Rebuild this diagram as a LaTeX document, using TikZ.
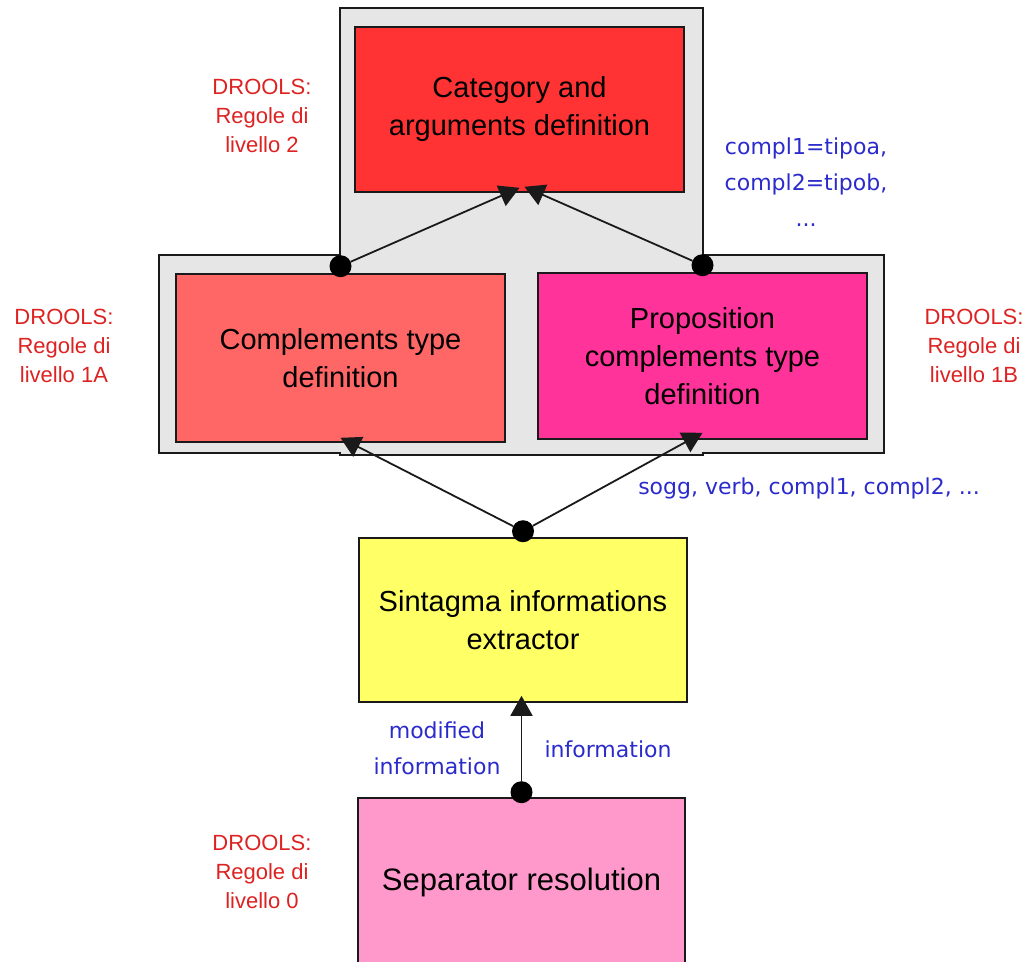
\documentclass[tikz,border=0pt]{standalone}
\usepackage{fontspec}
\setmainfont{Liberation Sans}
\newfontfamily\lblfont{DejaVu Sans}
\usetikzlibrary{arrows.meta}

\definecolor{panelgrey}{HTML}{E6E6E6}
\definecolor{catred}{HTML}{FF3333}
\definecolor{compred}{HTML}{FF6666}
\definecolor{propmag}{HTML}{FF3399}
\definecolor{sintyel}{HTML}{FFFF66}
\definecolor{seppink}{HTML}{FF99CC}
\definecolor{rulered}{HTML}{DD2222}
\definecolor{datablue}{HTML}{2B2BCC}
\definecolor{edge}{HTML}{1A1A1A}

\begin{document}
\begin{tikzpicture}[x=1pt,y=-1pt,
  box/.style={draw=edge, line width=1.6pt, minimum width=329pt, align=center,
    inner sep=0pt, font=\fontsize{29}{38}\selectfont},
  rule/.style={text=rulered, align=center, font=\fontsize{22}{29}\selectfont},
  data/.style={text=datablue, align=center, font=\lblfont\fontsize{22}{36}\selectfont},
  link/.style={draw=edge, line width=1.8pt, -{Triangle[length=20pt,width=22pt]}},
  dot/.style={circle, fill=black, inner sep=0pt, minimum size=22pt}
]
\path[use as bounding box] (0,0) rectangle (1027,961);
\clip (0,0) rectangle (1027,961);

% grey grouping panel (two overlapping blocks with one outline)
\fill[panelgrey] (340,8) rectangle (703,455);
\fill[panelgrey] (159,255) rectangle (884,453);
\draw[edge, line width=1.6pt] (340,8) -- (703,8) -- (703,255) -- (884,255)
  -- (884,453) -- (703,453) -- (703,455) -- (340,455) -- (340,453)
  -- (159,453) -- (159,255) -- (340,255) -- cycle;

% processing stages
\node[box, fill=catred, minimum height=165pt] (cat) at (519.5,109.5)
  {Category and\\arguments definition};
\node[box, fill=compred, minimum height=168pt] (comp) at (340.5,358)
  {Complements type\\definition};
\node[box, fill=propmag, minimum height=166pt] (prop) at (702.5,356)
  {Proposition\\complements type\\definition};
\node[box, fill=sintyel, minimum width=328pt, minimum height=164pt] (sint) at (523,620)
  {Sintagma informations\\extractor};
\node[box, fill=seppink, minimum width=327pt, minimum height=168pt,
  font=\fontsize{31}{38}\selectfont] (sep) at (521.5,882)
  {Separator resolution};

% connector origins
\node[dot] (dcomp) at ([yshift=7pt]comp.north) {};
\node[dot] (dprop) at ([yshift=7pt]prop.north) {};
\node[dot] (dsint) at ([yshift=6pt]sint.north) {};
\node[dot] (dsep) at ([yshift=5pt]sep.north) {};
\coordinate (sinttip) at (dsep |- sint.south);

% connectors
\draw[link] (dcomp) -- ([shift={(0,-5)}]cat.south);
\draw[link] (dprop) -- ([shift={(5,-6)}]cat.south);
\draw[link] (dsint) -- ([shift={(0,-5)}]comp.south);
\draw[link] (dsint) -- ([shift={(0,-7)}]prop.south);
\draw[link] (dsep) -- ([yshift=7pt]sinttip);

% rule levels
\node[rule] (r2) at (262,116) {DROOLS:\\Regole di\\livello 2};
\node[rule] (r1a) at (64,346) {DROOLS:\\Regole di\\livello 1A};
\node[rule] (r1b) at (974,346) {DROOLS:\\Regole di\\livello 1B};
\node[rule] (r0) at (262,872) {DROOLS:\\Regole di\\livello 0};

% data passed between stages
\node[data] (dcompl) at (806,182) {compl1=tipoa,\\compl2=tipob,\\...};
\node[data] (dsogg) at (809,488) {sogg, verb, compl1, compl2, ...};
\node[data] (dmod) at (437,748) {modified\\information};
\node[data] (dinfo) at (608,749) {information};
\end{tikzpicture}
\end{document}
